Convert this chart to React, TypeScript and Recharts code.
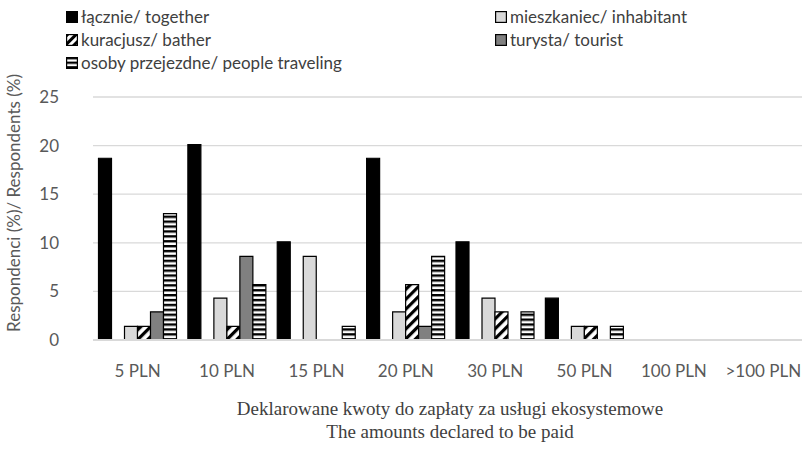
import React from "react"
import { BarChart, Bar, XAxis, YAxis, CartesianGrid } from "recharts"

const categories = ["5 PLN", "10 PLN", "15 PLN", "20 PLN", "30 PLN", "50 PLN", "100 PLN", ">100 PLN"]
const together = [18.7, 20.1, 10.1, 18.7, 10.1, 4.3, 0, 0]
const inhabitant = [1.4, 4.3, 8.6, 2.9, 4.3, 1.4, 0, 0]
const bather = [1.4, 1.4, 0, 5.7, 2.9, 1.4, 0, 0]
const tourist = [2.9, 8.6, 0, 1.4, 0, 0, 0, 0]
const traveling = [13.0, 5.7, 1.4, 8.6, 2.9, 1.4, 0, 0]
const yTicks = [0, 5, 10, 15, 20, 25]

const series = [
  { key: "together", name: "łącznie/ together", fill: "#000000" },
  { key: "inhabitant", name: "mieszkaniec/ inhabitant", fill: "#d9d9d9" },
  { key: "bather", name: "kuracjusz/ bather", fill: "url(#diagL)" },
  { key: "tourist", name: "turysta/ tourist", fill: "#808080" },
  { key: "traveling", name: "osoby przejezdne/ people traveling", fill: "url(#horizL)" },
]

const data = categories.map((c, i) => ({
  name: c,
  together: together[i],
  blank: 0,
  inhabitant: inhabitant[i],
  bather: bather[i],
  tourist: tourist[i],
  traveling: traveling[i],
}))

const font = "Lato, 'Open Sans', sans-serif"
const serif = "'Liberation Serif', 'Times New Roman', serif"

const LegendBox = () => (
  <div style={{ position: "absolute", left: 0, top: 0, width: 802, height: 80, fontFamily: font, fontSize: 17, color: "#404040" }}>
    {series.map((s, i) => {
      const col = i % 2
      const row = Math.floor(i / 2)
      return (
        <div key={s.key} style={{ position: "absolute", left: col ? 495 : 66, top: 6 + row * 23, display: "flex", alignItems: "center", whiteSpace: "nowrap", lineHeight: "22px" }}>
          <svg width={12} height={12} style={{ marginRight: 3 }}>
            <rect x={0.6} y={0.6} width={10.8} height={10.8} fill={s.fill} stroke="#000" strokeWidth={1.2} />
          </svg>
          <span>{s.name}</span>
        </div>
      )
    })}
  </div>
)

export default function App() {
  return (
    <div style={{ position: "absolute", left: 0, top: 0, width: 802, height: 449, overflow: "hidden", background: "#fff" }}>
      <svg width={0} height={0} style={{ position: "absolute" }}>
        <defs>
          <pattern id="diagL" patternUnits="userSpaceOnUse" width={6} height={6} patternTransform="rotate(45)">
            <rect width={6} height={6} fill="#fff" />
            <rect width={3} height={6} fill="#000" />
          </pattern>
          <pattern id="horizL" patternUnits="userSpaceOnUse" width={4} height={4.6}>
            <rect width={4} height={4.6} fill="#fff" />
            <rect width={4} height={2.3} fill="#000" />
          </pattern>
        </defs>
      </svg>
      <LegendBox />
      <div style={{ position: "absolute", left: 0, top: 0 }}>
        <BarChart width={812} height={449} data={data} margin={{ top: 97, right: 4, bottom: 79, left: 0 }} barGap={0} barCategoryGap={5.5}>
          <defs>
            <pattern id="diag" patternUnits="userSpaceOnUse" width={7} height={7} patternTransform="rotate(45)">
              <rect width={7} height={7} fill="#fff" />
              <rect width={3.2} height={7} fill="#000" />
            </pattern>
            <pattern id="horiz" patternUnits="userSpaceOnUse" width={4} height={4.9}>
              <rect width={4} height={4.9} fill="#fff" />
              <rect width={4} height={2.4} fill="#000" />
            </pattern>
          </defs>
          <CartesianGrid vertical={false} stroke="#d9d9d9" strokeWidth={1.3} />
          <XAxis dataKey="name" height={30} axisLine={{ stroke: "#d9d9d9", strokeWidth: 2 }} tickLine={false} tickMargin={19}
            tick={{ fill: "#595959", fontSize: 17, fontFamily: font }} interval={0} />
          <YAxis width={93} domain={[0, 25]} ticks={yTicks} axisLine={false} tickLine={false} tickMargin={28}
            tick={{ fill: "#595959", fontSize: 17, fontFamily: font }} />
          <Bar dataKey="together" name={series[0].name} fill="#000" stroke="#000" strokeWidth={1.2} isAnimationActive={false} />
          <Bar dataKey="blank" legendType="none" fill="none" isAnimationActive={false} />
          <Bar dataKey="inhabitant" name={series[1].name} fill="#d9d9d9" stroke="#000" strokeWidth={1.2} isAnimationActive={false} />
          <Bar dataKey="bather" name={series[2].name} fill="url(#diag)" stroke="#000" strokeWidth={1.2} isAnimationActive={false} />
          <Bar dataKey="tourist" name={series[3].name} fill="#808080" stroke="#000" strokeWidth={1.2} isAnimationActive={false} />
          <Bar dataKey="traveling" name={series[4].name} fill="url(#horiz)" stroke="#000" strokeWidth={1.2} isAnimationActive={false} />
          <text x={13} y={203} transform="rotate(-90 13 203)" textAnchor="middle" dominantBaseline="central" fill="#595959" fontSize={17} fontFamily={font}>
            Respondenci (%)/ Respondents (%)
          </text>
          <text x={450} y={408} textAnchor="middle" dominantBaseline="central" fill="#404040" fontSize={19} fontFamily={serif}>
            Deklarowane kwoty do zapłaty za usługi ekosystemowe
          </text>
          <text x={450} y={431} textAnchor="middle" dominantBaseline="central" fill="#404040" fontSize={19} fontFamily={serif}>
            The amounts declared to be paid
          </text>
        </BarChart>
      </div>
    </div>
  )
}
